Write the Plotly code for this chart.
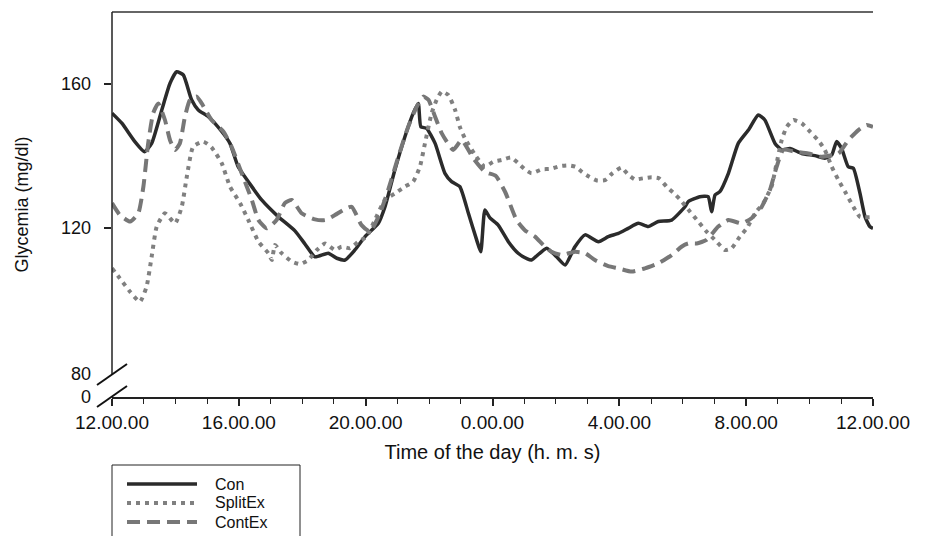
import plotly.graph_objects as go

# ---- data (hours after 12.00.00, glycemia mg/dl) ----
con_h = [0, 0.31, 0.72, 1.02, 1.25, 1.57, 1.83, 2.04, 2.25, 2.51, 2.72, 3.04, 3.46, 3.72, 3.98,
         4.41, 4.72, 5.25, 5.77, 6.09, 6.40, 6.82, 7.09, 7.35, 7.66, 7.98, 8.40, 8.61, 8.92, 9.24,
         9.50, 9.66, 9.74, 9.92, 10.19, 10.50, 10.71, 10.97, 11.24, 11.50, 11.63, 11.76, 11.92,
         12.18, 12.50, 12.81, 13.10, 13.23, 13.71, 14.02, 14.29, 14.60, 14.92, 15.34, 15.65, 15.97,
         16.28, 16.60, 16.91, 17.23, 17.65, 18.07, 18.17, 18.54, 18.80, 18.91, 19.02, 19.17, 19.44,
         19.75, 20.07, 20.38, 20.59, 20.91, 21.12, 21.38, 21.75, 22.17, 22.48, 22.70, 22.85, 23.01,
         23.22, 23.38, 23.59, 23.75, 23.90, 24.0]
con_v = [151.9, 149.1, 144.0, 141.2, 143.5, 152.8, 160.2, 163.4, 162.5, 155.6, 152.8, 150.9, 146.8,
         143.5, 137.0, 131.5, 127.8, 123.1, 119.2, 115.5, 112.0, 113.0, 111.6, 111.1, 113.9, 117.6,
         121.3, 125.9, 136.1, 145.4, 151.9, 154.6, 148.1, 147.7, 143.5, 135.2, 132.9, 131.5, 124.1,
         116.7, 113.4, 125.0, 122.8, 120.8, 116.2, 113.0, 111.4, 111.1, 114.4, 112.0, 109.7, 114.8,
         118.1, 116.2, 117.6, 118.5, 119.9, 121.3, 120.4, 121.8, 122.2, 125.9, 127.3, 128.7, 128.7,
         124.5, 129.2, 130.1, 135.2, 143.5, 147.2, 151.4, 150.0, 143.5, 141.7, 142.1, 140.7, 140.1,
         139.4, 140.3, 144.0, 142.1, 137.0, 136.6, 129.6, 123.1, 120.4, 119.9]

split_h = [0, 0.25, 0.57, 0.88, 1.09, 1.25, 1.41, 1.67, 1.99, 2.20, 2.36, 2.56, 2.88, 3.14, 3.46,
           3.72, 4.04, 4.30, 4.62, 4.93, 5.04, 5.14, 5.35, 5.67, 5.93, 6.19, 6.46, 6.72, 7.03, 7.24,
           7.51, 7.77, 8.03, 8.29, 8.61, 8.92, 9.24, 9.50, 9.71, 9.87, 10.08, 10.24, 10.40, 10.61,
           10.82, 10.97, 11.13, 11.45, 11.76, 12.02, 12.29, 12.58, 12.81, 13.02, 13.23, 13.55, 13.81,
           14.13, 14.39, 14.62, 14.83, 15.04, 15.29, 15.55, 15.78, 16.07, 16.26, 16.49, 16.75, 17.02,
           17.25, 17.49, 17.70, 17.91, 18.23, 18.49, 18.75, 19.07, 19.33, 19.54, 19.80, 20.02, 20.28,
           20.54, 20.80, 20.96, 21.12, 21.28, 21.49, 21.75, 22.01, 22.27, 22.48, 22.70, 22.91, 23.12,
           23.38, 23.59, 23.90]
split_v = [108.8, 106.0, 102.3, 99.5, 103.7, 112.0, 120.4, 124.1, 121.3, 125.9, 134.3, 142.6, 144.0,
           142.4, 138.0, 131.5, 126.9, 122.2, 116.2, 113.0, 111.1, 115.3, 113.0, 110.7, 110.0, 111.1,
           113.9, 115.7, 113.9, 114.8, 114.4, 116.2, 117.6, 122.2, 127.8, 129.6, 131.5, 132.9, 137.0,
           143.5, 151.9, 155.6, 157.9, 156.9, 152.8, 148.1, 144.9, 140.3, 137.0, 138.4, 138.9, 139.6,
           138.0, 136.3, 135.2, 136.3, 136.4, 137.2, 137.4, 137.0, 135.5, 134.3, 133.2, 133.3, 135.2,
           136.8, 135.0, 133.5, 133.8, 134.1, 133.8, 131.5, 129.8, 128.0, 124.5, 121.8, 119.0, 116.2,
           113.9, 114.4, 117.6, 119.9, 124.1, 126.9, 131.5, 138.0, 144.4, 148.1, 150.0, 149.1, 146.8,
           144.4, 141.7, 137.0, 133.3, 130.1, 125.9, 123.1, 123.0]

cont_h = [0, 0.25, 0.57, 0.83, 0.99, 1.14, 1.30, 1.46, 1.67, 1.83, 1.99, 2.14, 2.30, 2.46, 2.67,
          2.83, 3.14, 3.51, 3.77, 4.09, 4.41, 4.62, 4.88, 5.19, 5.45, 5.67, 5.98, 6.40, 6.72, 7.03,
          7.29, 7.56, 7.87, 8.14, 8.45, 8.71, 9.03, 9.34, 9.61, 9.82, 9.98, 10.19, 10.40, 10.76,
          11.03, 11.39, 11.76, 12.10, 12.40, 12.76, 13.02, 13.34, 13.60, 13.86, 14.18, 14.60, 14.92,
          15.23, 15.65, 15.97, 16.39, 16.81, 17.23, 17.65, 17.96, 18.17, 18.44, 18.75, 19.12, 19.44,
          19.86, 20.17, 20.49, 20.75, 20.96, 21.17, 21.54, 21.96, 22.38, 22.91, 23.22, 23.54, 23.80,
          24.0]
cont_v = [126.9, 123.6, 121.8, 124.1, 131.5, 143.5, 151.9, 154.6, 150.0, 144.4, 141.7, 143.5, 150.9,
          155.6, 156.5, 154.6, 150.0, 146.8, 142.6, 135.2, 127.8, 122.2, 119.9, 122.2, 126.9, 127.8,
          124.1, 122.4, 122.2, 123.6, 125.0, 125.9, 120.8, 119.0, 124.1, 130.6, 139.8, 148.1, 153.7,
          156.5, 155.6, 150.9, 146.3, 141.7, 144.4, 139.4, 135.6, 134.5, 130.0, 122.2, 119.4, 117.6,
          115.3, 113.4, 112.5, 113.4, 113.0, 111.1, 109.4, 108.8, 107.9, 108.8, 110.2, 112.5, 114.8,
          115.7, 115.7, 116.7, 120.4, 122.2, 121.3, 122.7, 125.9, 130.6, 137.0, 141.7, 141.2, 140.7,
          139.8, 140.7, 144.4, 147.2, 148.6, 148.1]

series_names = ["Con", "SplitEx", "ContEx"]
x_tickvals = [0, 4, 8, 12, 16, 20, 24]
x_ticktext = ["12.00.00", "16.00.00", "20.00.00", "0.00.00", "4.00.00", "8.00.00", "12.00.00"]
y_tickvals = [120, 160]
y_labelvals = [80, 120, 160]
y_labeltext = ["80", "120", "160"]

FONT = "Liberation Sans, Arial, sans-serif"
Y_MIN, Y_MAX = 73.06, 180.0

styles = [
    dict(color="#2b2b2b", width=3.5),
    dict(color="#808080", width=4, dash="4px,5px"),
    dict(color="#777777", width=4, dash="13px,7px"),
]

fig = go.Figure()
for name, xs, ys, st in zip(series_names, [con_h, split_h, cont_h], [con_v, split_v, cont_v], styles):
    fig.add_trace(go.Scatter(x=xs, y=ys, mode="lines", name=name, showlegend=False,
                             line=dict(shape="spline", smoothing=0.5, **st)))

def py(pix):  # pixel row -> paper y (plot spans rows 12..397)
    return (397 - pix) / 385.0

def px(pix):  # pixel column -> paper x (plot spans cols 112..873)
    return (pix - 112) / 761.0

shapes = [
    dict(type="line", xref="paper", yref="paper", x0=0, x1=1, y0=1, y1=1,
         line=dict(color="#333333", width=1.5)),
    dict(type="line", xref="paper", yref="paper", x0=0, x1=0, y0=py(374), y1=1,
         line=dict(color="#222222", width=1.5)),
    dict(type="line", xref="paper", yref="paper", x0=px(97), x1=px(127), y0=py(385), y1=py(364),
         line=dict(color="#111111", width=2)),
    dict(type="line", xref="paper", yref="paper", x0=px(97), x1=px(127), y0=py(407), y1=py(386),
         line=dict(color="#111111", width=2)),
    dict(type="rect", xref="paper", yref="paper", x0=0, x1=px(300), y0=py(465), y1=py(560),
         line=dict(color="#222222", width=1), fillcolor="rgba(0,0,0,0)"),
]

annotations = []
# y tick labels (axis labels sit a little further out than plotly's default)
for v, t in zip(y_labelvals, y_labeltext):
    annotations.append(dict(text=t, xref="paper", yref="y", x=px(93), y=v, xanchor="right",
                            yanchor="middle", showarrow=False, yshift=-2 if v == 80 else 0,
                            font=dict(family=FONT, size=18, color="#111")))
annotations.append(dict(text="0", xref="paper", yref="y", x=px(93), y=Y_MIN, xanchor="right",
                        yanchor="middle", showarrow=False,
                        font=dict(family=FONT, size=18, color="#111")))

# legend (key box below the chart)
legend_rows = [484, 503, 522]
for name, st, row in zip(series_names, styles, legend_rows):
    shapes.append(dict(type="line", xref="paper", yref="paper", x0=px(127), x1=px(197),
                       y0=py(row), y1=py(row), line=st))
    annotations.append(dict(text=name, xref="paper", yref="paper", x=px(214), y=py(row),
                            xanchor="left", yanchor="middle", showarrow=False, borderpad=0,
                            font=dict(family=FONT, size=16, color="#111")))

fig.update_layout(
    width=933, height=536,
    margin=dict(l=112, r=60, t=12, b=139, autoexpand=False),
    paper_bgcolor="white", plot_bgcolor="white",
    font=dict(family=FONT, color="#111"),
    showlegend=False,
    shapes=shapes,
    annotations=annotations,
    xaxis=dict(range=[0, 24], tickvals=x_tickvals, ticktext=x_ticktext, automargin=False,
               showgrid=False, zeroline=False, showline=True, linecolor="#222", linewidth=1.5,
               ticks="outside", ticklen=7, tickwidth=1.5, tickcolor="#222",
               minor=dict(dtick=1, ticks="outside", ticklen=5, tickwidth=1.2, tickcolor="#222"),
               tickfont=dict(family=FONT, size=19, color="#111"),
               title=dict(text="Time of the day (h. m. s)", font=dict(family=FONT, size=20, color="#111"),
                          standoff=13)),
    yaxis=dict(range=[Y_MIN, Y_MAX], tickvals=y_tickvals, automargin=False,
               showticklabels=False,
               showgrid=False, zeroline=False, showline=False,
               ticks="outside", ticklen=7, tickwidth=1.5, tickcolor="#222",
               title=dict(text="Glycemia (mg/dl)", font=dict(family=FONT, size=18, color="#111"),
                          standoff=70)),
)

fig.write_html("out.html")
